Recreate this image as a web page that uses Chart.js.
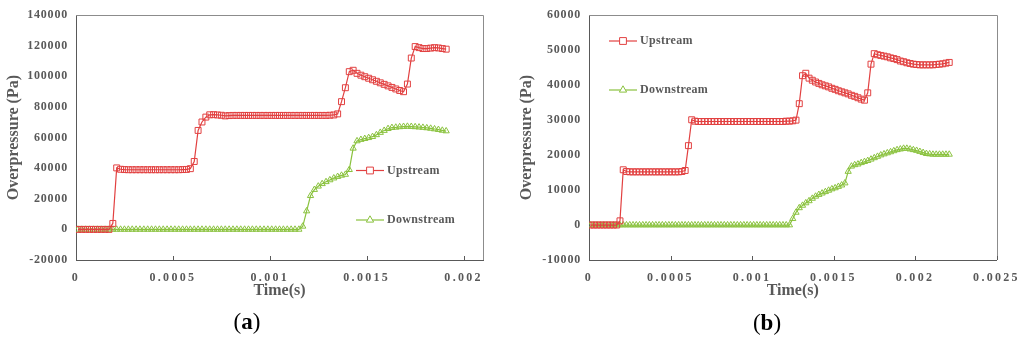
<!DOCTYPE html>
<html>
<head>
<meta charset="utf-8">
<script src="https://cdn.jsdelivr.net/npm/chart.js@4"></script>
<style>
body { margin: 0; background: #fff; }
#page { position: relative; width: 1024px; height: 338px; overflow: hidden; }
canvas { position: absolute; top: 0; }
#chartA { left: 0; }
#chartB { left: 513px; }
.cap { position: absolute; font-family: 'Liberation Serif'; font-size: 23px; line-height: 1; color: #000; transform: translate(-50%, -50%); }
</style>
</head>
<body>
<div id="page">
  <canvas id="chartA" width="510" height="338"></canvas>
  <canvas id="chartB" width="511" height="338"></canvas>
  <div class="cap" style="left:247px;top:321px">(<b>a</b>)</div>
  <div class="cap" style="left:767px;top:322px">(<b>b</b>)</div>
</div>
<script>
'use strict';

// sample times (s), shared by both charts
let times = [
  0.00001, 0.00003, 0.00005, 0.00007, 0.00009, 0.00011, 0.00013, 0.00015, 0.00017, 0.00019,
  0.00021, 0.00023, 0.00025, 0.00027, 0.00029, 0.00031, 0.00033, 0.00035, 0.00037, 0.00039,
  0.00041, 0.00043, 0.00045, 0.00047, 0.00049, 0.00051, 0.00053, 0.00055, 0.00057, 0.00059,
  0.00061, 0.00063, 0.00065, 0.00067, 0.00069, 0.00071, 0.00073, 0.00075, 0.00077, 0.00079,
  0.00081, 0.00083, 0.00085, 0.00087, 0.00089, 0.00091, 0.00093, 0.00095, 0.00097, 0.00099,
  0.00101, 0.00103, 0.00105, 0.00107, 0.00109, 0.00111, 0.00113, 0.00115, 0.00117, 0.00119,
  0.00121, 0.00123, 0.00125, 0.00127, 0.00129, 0.00131, 0.00133, 0.00135, 0.00137, 0.00139,
  0.00141, 0.00143, 0.00145, 0.00147, 0.00149, 0.00151, 0.00153, 0.00155, 0.00157, 0.00159,
  0.00161, 0.00163, 0.00165, 0.00167, 0.00169, 0.00171, 0.00173, 0.00175, 0.00177, 0.00179,
  0.00181, 0.00183, 0.00185, 0.00187, 0.00189, 0.00191, 0.00193, 0.00195, 0.00197, 0.00199,
  0.00201, 0.00203, 0.00205, 0.00207, 0.00209, 0.00211, 0.00213, 0.00215, 0.00217, 0.00219,
  0.00221
];

// chart (a)
let upA = [
  0, 0, 0, 0, 0, 0, 0, 0, 0, 3900,
  40200, 39300, 39100, 39000, 39000, 39000, 39000, 39000, 39000, 39000,
  39000, 39000, 39000, 39000, 39000, 39000, 39000, 39100, 39200, 39700,
  44400, 64700, 70200, 73400, 74900, 75000, 74800, 74600, 74200, 74400,
  74500, 74500, 74500, 74500, 74500, 74500, 74500, 74500, 74500, 74500,
  74500, 74500, 74500, 74500, 74500, 74500, 74500, 74500, 74500, 74500,
  74500, 74500, 74500, 74500, 74500, 74600, 74800, 75500, 83500, 92600,
  103100, 104000, 102000, 100800, 99800, 98800, 97800, 96800, 95800, 94800,
  93800, 92800, 91800, 90800, 90000, 95000, 112000, 119500, 118800, 118200,
  118200, 118500, 118800, 118600, 118200, 117800
];
let downA = [
  0, 0, 0, 0, 0, 0, 0, 0, 0, 0,
  0, 0, 0, 0, 0, 0, 0, 0, 0, 0,
  0, 0, 0, 0, 0, 0, 0, 0, 0, 0,
  0, 0, 0, 0, 0, 0, 0, 0, 0, 0,
  0, 0, 0, 0, 0, 0, 0, 0, 0, 0,
  0, 0, 0, 0, 0, 0, 0, 0, 2000, 12000,
  22000, 26000, 28200, 29800, 31100, 32300, 33500, 34500, 35300, 35900,
  39000, 53000, 57800, 58700, 59300, 59900, 60600, 61800, 63300, 64600,
  65800, 66500, 66700, 67000, 67200, 67300, 67200, 67000, 66800, 66600,
  66300, 66000, 65600, 65200, 64700, 64300
];
let xLabelsA = ['0', '0.0005', '0.001', '0.0015', '0.002'];
let yLabelsA = ['-20000', '0', '20000', '40000', '60000', '80000', '100000', '120000', '140000'];

// chart (b)
let upB = [
  0, 0, 0, 0, 0, 0, 0, 0, 0, 1200,
  15800, 15300, 15200, 15200, 15200, 15200, 15200, 15200, 15200, 15200,
  15200, 15200, 15200, 15200, 15200, 15200, 15200, 15200, 15300, 15600,
  22700, 30100, 29700, 29600, 29600, 29600, 29600, 29600, 29600, 29600,
  29600, 29600, 29600, 29600, 29600, 29600, 29600, 29600, 29600, 29600,
  29600, 29600, 29600, 29600, 29600, 29600, 29600, 29600, 29600, 29600,
  29700, 29700, 29800, 30000, 34700, 42700, 43400, 42000, 41400, 40900,
  40500, 40100, 39800, 39500, 39100, 38800, 38400, 38100, 37800, 37500,
  37100, 36800, 36400, 36000, 35700, 37800, 46000, 49000, 48700, 48500,
  48300, 48100, 47800, 47600, 47300, 46900, 46700, 46400, 46200, 46000,
  45900, 45800, 45800, 45800, 45800, 45800, 45900, 46000, 46100, 46300,
  46500
];
let downB = [
  0, 0, 0, 0, 0, 0, 0, 0, 0, 0,
  0, 0, 0, 0, 0, 0, 0, 0, 0, 0,
  0, 0, 0, 0, 0, 0, 0, 0, 0, 0,
  0, 0, 0, 0, 0, 0, 0, 0, 0, 0,
  0, 0, 0, 0, 0, 0, 0, 0, 0, 0,
  0, 0, 0, 0, 0, 0, 0, 0, 0, 0,
  0, 0, 1800, 3600, 4900, 5600, 6300, 6900, 7600, 8200,
  8700, 9100, 9500, 9900, 10300, 10600, 11000, 11400, 12000, 15300,
  16800, 17200, 17400, 17800, 18100, 18400, 18800, 19200, 19600, 20000,
  20300, 20600, 20900, 21200, 21500, 21700, 21900, 21900, 21700, 21500,
  21300, 21000, 20700, 20400, 20300, 20200, 20200, 20200, 20200, 20200,
  20200
];
let xLabelsB = ['0', '0.0005', '0.001', '0.0015', '0.002', '0.0025'];
let yLabelsB = ['-10000', '0', '10000', '20000', '30000', '40000', '50000', '60000'];

let seriesNames = ['Upstream', 'Downstream'];

const RED = 'rgb(226,64,64)';
const GREEN = 'rgb(138,194,62)';
const TEXT = '#595959';

Chart.defaults.font.family = "'Liberation Serif', 'Times New Roman', serif";
Chart.defaults.font.size = 12;
Chart.defaults.font.weight = 'bold';
Chart.defaults.color = TEXT;

function points(vals) {
  return vals.map((v, i) => ({ x: times[i], y: v }));
}

// spread letters: canvas letterSpacing where it exists, else the canvas css
function withSpacing(ctx, gap, draw) {
  let canvas = ctx.canvas;
  let old = canvas.style.letterSpacing;
  ctx.save();
  if ('letterSpacing' in ctx) {
    ctx.letterSpacing = gap;
  } else {
    canvas.style.letterSpacing = gap;
    ctx.font = '9px serif';
  }
  draw();
  ctx.restore();
  canvas.style.letterSpacing = old;
}

// legend drawn inside the plot: line sample with the marker, then the name
const insideLegend = {
  id: 'insideLegend',
  afterDraw(chart, args, opts) {
    let ctx = chart.ctx;
    ctx.save();
    chart.data.datasets.forEach((ds, i) => {
      let y = opts.y[i];
      ctx.strokeStyle = ds.borderColor;
      ctx.lineWidth = 1.2;
      ctx.beginPath();
      ctx.moveTo(opts.x, y);
      ctx.lineTo(opts.x + 28, y);
      ctx.stroke();
      ctx.fillStyle = '#fff';
      ctx.lineWidth = 1;
      Chart.helpers.drawPoint(ctx, { pointStyle: ds.pointStyle, radius: ds.pointRadius + 0.6, borderWidth: 1, rotation: 0 }, opts.x + 14, y);
      withSpacing(ctx, '0.3px', () => {
        ctx.fillStyle = TEXT;
        ctx.font = "bold 12px 'Liberation Serif'";
        ctx.textAlign = 'left';
        ctx.textBaseline = 'middle';
        ctx.fillText(ds.label, opts.x + 31, y);
      });
    });
    ctx.restore();
  }
};

// grey frame on top/right and small inward ticks on the time axis
const frame = {
  id: 'frame',
  afterDraw(chart) {
    let ctx = chart.ctx;
    let a = chart.chartArea;
    let x = chart.scales.x;
    ctx.save();
    ctx.strokeStyle = '#8c8c8c';
    ctx.lineWidth = 1;
    ctx.beginPath();
    ctx.moveTo(a.left, Math.round(a.top) + 0.5);
    ctx.lineTo(Math.round(a.right) + 0.5, Math.round(a.top) + 0.5);
    ctx.lineTo(Math.round(a.right) + 0.5, a.bottom);
    ctx.stroke();
    ctx.strokeStyle = TEXT;
    ctx.beginPath();
    x.ticks.forEach(t => {
      let px = Math.round(x.getPixelForValue(t.value)) + 0.5;
      if (px > a.left + 3) {
        ctx.moveTo(px, a.bottom);
        ctx.lineTo(px, a.bottom - 4);
      }
    });
    ctx.stroke();
    ctx.restore();
  }
};

// tick labels of the reference are letter-spaced
const spacedTicks = {
  id: 'spacedTicks',
  afterLayout(chart) {
    [['x', '2.3px'], ['y', '0.8px']].forEach(([id, gap]) => {
      let scale = chart.scales[id];
      if (scale._spaced) return;
      let base = scale.drawLabels;
      scale.drawLabels = function (area) {
        withSpacing(this.ctx, gap, () => base.call(this, area));
      };
      scale._spaced = true;
    });
  }
};

function makeChart(id, up, down, xLabels, yLabels, xMax, legendPos) {
  let ctx = document.getElementById(id).getContext('2d');
  return new Chart(ctx, {
    type: 'line',
    data: {
      datasets: [{
        label: seriesNames[0],
        data: points(up),
        borderColor: RED,
        borderWidth: 1.2,
        pointStyle: 'rect',
        pointRadius: 4.2,
        pointBorderWidth: 1,
        pointBorderColor: RED,
        pointBackgroundColor: 'rgba(255,255,255,0)',
        tension: 0
      }, {
        label: seriesNames[1],
        data: points(down),
        borderColor: GREEN,
        borderWidth: 1.2,
        pointStyle: 'triangle',
        pointRadius: 3.6,
        pointBorderWidth: 1,
        pointBorderColor: GREEN,
        pointBackgroundColor: 'rgba(255,255,255,0)',
        tension: 0
      }]
    },
    options: {
      responsive: false,
      animation: false,
      layout: { padding: { top: 10, right: 27, left: 0, bottom: 0 } },
      scales: {
        x: {
          type: 'linear',
          min: 0,
          max: xMax,
          grid: { display: false, drawTicks: false },
          border: { color: TEXT, width: 1 },
          ticks: { padding: 11, maxRotation: 0, callback: (v, i) => xLabels[i] },
          afterBuildTicks: scale => { scale.ticks = xLabels.map(l => ({ value: Number(l) })); },
          afterFit: scale => { scale.height = 78; },
          title: { display: true, text: 'Time(s)', color: TEXT, font: { size: 16, weight: 'bold' }, padding: { top: 0, bottom: 38 } }
        },
        y: {
          min: Number(yLabels[0]),
          max: Number(yLabels[yLabels.length - 1]),
          grid: { display: false, drawTicks: false },
          border: { color: TEXT, width: 1 },
          ticks: { padding: 8, callback: (v, i) => yLabels[i] },
          afterBuildTicks: scale => { scale.ticks = yLabels.map(l => ({ value: Number(l) })); },
          afterFit: scale => { scale.width = 76; },
          title: { display: true, text: 'Overpressure (Pa)', color: TEXT, font: { size: 16, weight: 'bold' }, padding: { top: 4.4, bottom: 0 } }
        }
      },
      plugins: {
        legend: { display: false },
        tooltip: { enabled: false },
        insideLegend: legendPos
      }
    },
    plugins: [insideLegend, frame, spacedTicks]
  });
}

makeChart('chartA', upA, downA, xLabelsA, yLabelsA, 0.0021, { x: 356, y: [170.5, 220] });
makeChart('chartB', upB, downB, xLabelsB, yLabelsB, 0.0025, { x: 96, y: [41, 90] });
</script>
</body>
</html>
